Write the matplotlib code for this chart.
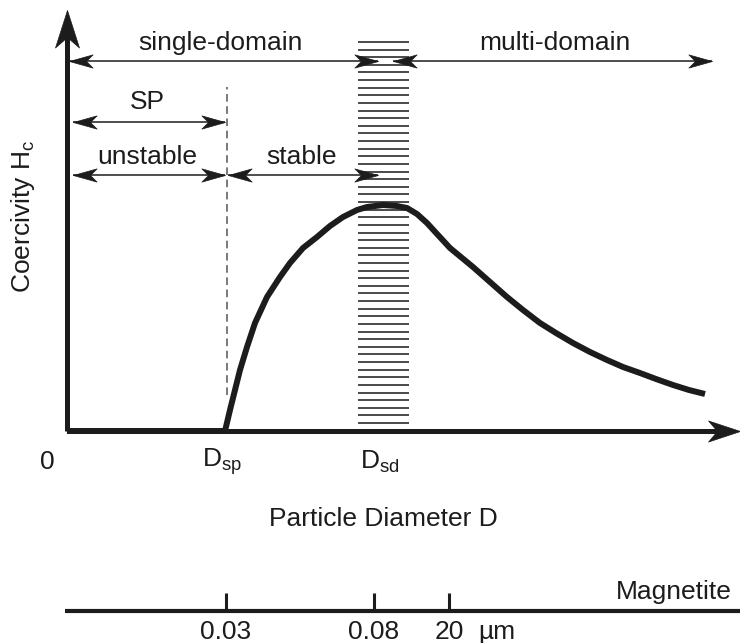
import numpy as np
import matplotlib
matplotlib.use('Agg')
import matplotlib.pyplot as plt
from matplotlib.path import Path

plt.rcParams['font.family'] = ['Liberation Sans', 'DejaVu Sans']
plt.rcParams['mathtext.fontset'] = 'custom'
plt.rcParams['mathtext.rm'] = 'Liberation Sans'
plt.rcParams['mathtext.it'] = 'Liberation Sans:italic'

# schematic coercivity curve (particle diameter vs Hc, arbitrary units)
D = [0, 158, 163, 168, 173, 180, 188, 200, 213, 223, 236, 250, 263, 276,
     290, 300, 316, 330, 340, 350, 360, 371, 383, 406, 423, 440, 456, 473,
     489, 506, 523, 540, 556, 573, 589, 606, 622, 638]
Hc = [0, 0, 21, 41, 61, 84, 108, 134, 154, 168, 183, 194, 205, 214,
      221, 224, 226, 225, 223, 217, 208, 196, 183, 164, 149, 134, 121, 108,
      98, 88, 79, 71, 64, 58, 52, 46, 41, 37]

D_sp = 159        # superparamagnetic threshold
D_sd = 316        # single-domain threshold (center of the hatched band)
sd_band = (291, 342)
x_max = 673
y_max = 421

# magnetite scale
scale_ticks = [159, 307, 382]
scale_labels = ['0.03', '0.08', '20']

ink = '#1c1c1c'
FS = 19


def head(ax, x, y, angle, size, ratio=0.28):
    # concave ("stealth") arrow head with tip at (x, y)
    v = np.array([(0, 0), (-1, ratio), (-0.72, 0), (-1, -ratio), (0, 0)])
    a = np.deg2rad(angle)
    R = np.array([[np.cos(a), -np.sin(a)], [np.sin(a), np.cos(a)]])
    v = v @ R.T
    p = Path(v, [Path.MOVETO, Path.LINETO, Path.LINETO, Path.LINETO, Path.CLOSEPOLY])
    ax.plot([x], [y], marker=p, markersize=size, color=ink, mec=ink, mew=0.5, zorder=6)


def darrow(ax, x0, x1, y, left=True, right=True, lw=1.1, size=34):
    ax.plot([x0, x1], [y, y], color=ink, lw=lw, zorder=5, solid_capstyle='butt')
    if left:
        head(ax, x0, y, 180, size)
    if right:
        head(ax, x1, y, 0, size)


fig = plt.figure(figsize=(7.4, 6.43), dpi=100)
ax = fig.add_axes([0, 0, 1, 1])
ax.set_xlim(-67, 673)
ax.set_ylim(-212, 431)
ax.axis('off')

# hatched band around D_sd
hatch_y = np.linspace(8, 389, 51)
ax.hlines(hatch_y, sd_band[0], sd_band[1], color='#3c3c3c', lw=1.3, zorder=2)

# main axes
ax.plot([0, 0], [0, y_max - 20], color=ink, lw=3.6, solid_capstyle='butt', zorder=4)
head(ax, 0, y_max, 90, 54, 0.32)
ax.plot([0, x_max - 20], [0, 0], color=ink, lw=3.6, solid_capstyle='butt', zorder=4)
head(ax, x_max, 0, 0, 46, 0.33)

# curve
ax.plot(D, Hc, color=ink, lw=4.3, solid_joinstyle='round', solid_capstyle='butt', zorder=5)

# D_sp dashed line
ax.plot([D_sp + 1, D_sp + 1], [36, 344], color='#555555', lw=1.1,
        dashes=(5, 3), zorder=3)

# domain arrows
darrow(ax, 2, 311, 370)
darrow(ax, 326, 645, 370)
darrow(ax, 6, 158, 309)
darrow(ax, 6, 158, 256)
darrow(ax, 161, 311, 256)

ax.text(153, 388, 'single-domain', fontsize=FS, ha='center', va='center', color=ink)
ax.text(488, 388, 'multi-domain', fontsize=FS, ha='center', va='center', color=ink)
ax.text(80, 329, 'SP', fontsize=FS, ha='center', va='center', color=ink)
ax.text(80, 274, 'unstable', fontsize=FS, ha='center', va='center', color=ink)
ax.text(235, 274, 'stable', fontsize=FS, ha='center', va='center', color=ink)

ax.text(-44, 215, r'Coercivity H$_\mathrm{c}$', fontsize=FS, rotation=90,
        ha='center', va='center', color=ink)
ax.text(-20, -31, '0', fontsize=FS, ha='center', va='center', color=ink)
ax.text(D_sp - 4, -31, r'D$_\mathrm{sp}$', fontsize=FS, ha='center', va='center', color=ink)
ax.text(D_sd - 3, -31, r'D$_\mathrm{sd}$', fontsize=FS, ha='center', va='center', color=ink)
ax.text(316, -88, 'Particle Diameter D', fontsize=FS, ha='center', va='center', color=ink)

# magnetite size scale
ax.plot([-2, 673], [-180, -180], color=ink, lw=3, solid_capstyle='butt')
ax.vlines(scale_ticks, -180, -162, color=ink, lw=2.2)
for t, lab in zip(scale_ticks, scale_labels):
    ax.text(t, -208, lab, fontsize=FS, ha='center', va='baseline', color=ink)
ax.text(430, -208, '\u00b5m', fontsize=FS, ha='center', va='baseline', color=ink)
ax.text(665, -161, 'Magnetite', fontsize=FS, ha='right', va='center', color=ink)

fig.savefig('out.png', dpi=100, facecolor='white')
